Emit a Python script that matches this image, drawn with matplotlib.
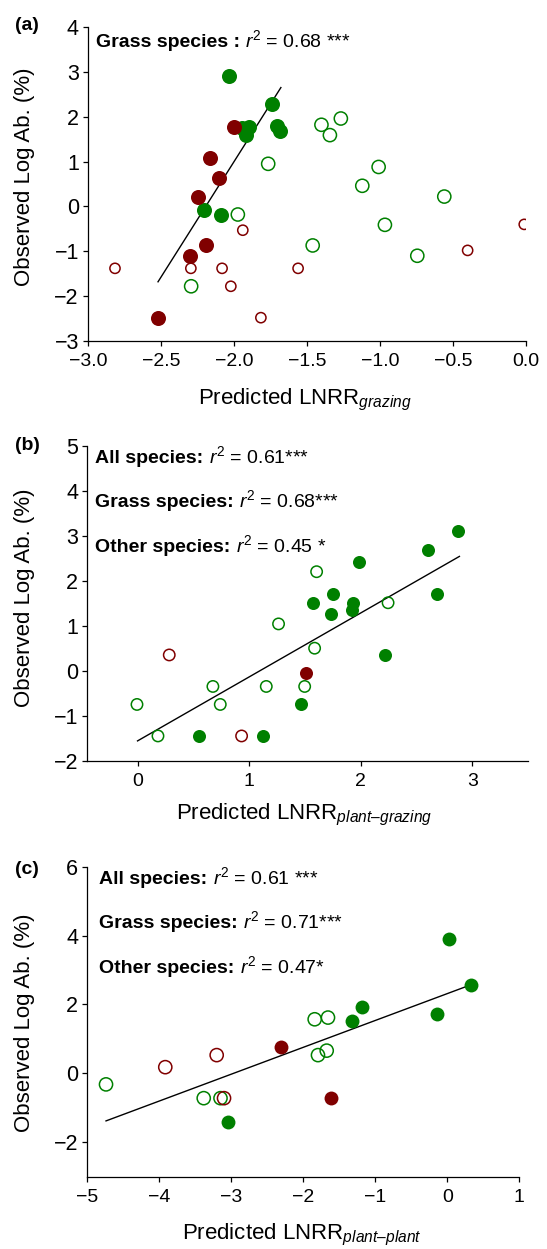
import numpy as np
import matplotlib
matplotlib.use("Agg")
import matplotlib.pyplot as plt

plt.rcParams['font.family'] = ['Liberation Sans', 'DejaVu Sans']
plt.rcParams['mathtext.fontset'] = 'custom'
plt.rcParams['mathtext.rm'] = 'Liberation Sans'
plt.rcParams['mathtext.it'] = 'Liberation Sans:italic'
plt.rcParams['mathtext.bf'] = 'Liberation Sans:bold'

GREEN = '#008000'
RED = '#800000'

# ---- panel (a): predicted LNRR grazing vs observed log abundance
a_gfill_x = [-2.035, -1.738, -1.944, -1.896, -1.914, -1.704, -1.681, -2.206, -2.09]
a_gfill_y = [2.90, 2.28, 1.74, 1.76, 1.59, 1.79, 1.68, -0.09, -0.18]
a_rfill_x = [-1.998, -2.165, -2.104, -2.245, -2.188, -2.302, -2.52]
a_rfill_y = [1.77, 1.07, 0.64, 0.22, -0.87, -1.10, -2.48]
a_gopen_x = [-1.765, -1.973, -2.293, -1.40, -1.267, -1.342, -1.008, -1.12, -0.558, -0.965, -1.46, -0.743]
a_gopen_y = [0.95, -0.18, -1.78, 1.82, 1.96, 1.59, 0.88, 0.46, 0.22, -0.41, -0.87, -1.10]
a_ropen_x = [-2.815, -2.295, -2.081, -1.56, -1.939, -2.021, -1.815, -0.398, -0.01]
a_ropen_y = [-1.38, -1.38, -1.38, -1.38, -0.53, -1.78, -2.48, -0.98, -0.40]
a_fit_x = [-2.52, -1.678]
a_fit_y = [-1.68, 2.65]

# ---- panel (b): plant-grazing
b_gfill_x = [2.871, 2.605, 1.98, 1.747, 1.571, 1.926, 1.733, 1.921, 2.679, 2.213, 1.461, 0.553, 1.126]
b_gfill_y = [3.10, 2.69, 2.41, 1.70, 1.50, 1.51, 1.27, 1.34, 1.70, 0.34, -0.75, -1.45, -1.45]
b_rfill_x = [1.512]
b_rfill_y = [-0.05]
b_gopen_x = [1.604, 1.263, 2.244, 1.586, 0.675, 1.153, 1.497, -0.005, 0.741, 0.183]
b_gopen_y = [2.20, 1.04, 1.51, 0.50, -0.35, -0.35, -0.35, -0.75, -0.75, -1.45]
b_ropen_x = [0.284, 0.932]
b_ropen_y = [0.35, -1.45]
b_fit_x = [0.0, 2.883]
b_fit_y = [-1.56, 2.54]

# ---- panel (c): plant-plant
c_gfill_x = [0.024, 0.333, -1.189, -1.319, -0.147, -3.05]
c_gfill_y = [3.90, 2.57, 1.94, 1.52, 1.71, -1.42]
c_rfill_x = [-2.314, -1.615]
c_rfill_y = [0.77, -0.72]
c_gopen_x = [-1.842, -1.657, -1.796, -1.675, -4.74, -3.383, -3.15]
c_gopen_y = [1.57, 1.62, 0.53, 0.66, -0.32, -0.72, -0.72]
c_ropen_x = [-3.917, -3.203, -3.101]
c_ropen_y = [0.18, 0.53, -0.72]
c_fit_x = [-4.74, 0.339]
c_fit_y = [-1.38, 2.58]

W, H = 547, 1249
fig = plt.figure(figsize=(W / 100, H / 100), dpi=100)
renderer = fig.canvas.get_renderer()


def box(l, t, r, b):
    return [l / W, 1 - b / H, (r - l) / W, (b - t) / H]


def style(ax):
    for s in ['top', 'right']:
        ax.spines[s].set_visible(False)
    for s in ['left', 'bottom']:
        ax.spines[s].set_linewidth(0.9)
    ax.tick_params(direction='out', length=3.6, width=0.9, pad=3)
    ax.tick_params(axis='y', labelsize=15.5)
    ax.tick_params(axis='x', labelsize=14, pad=5)


def points(ax, gf, rf, go, ro, sf, sgo, sro):
    ax.scatter(*go, s=sgo, facecolors='none', edgecolors=GREEN, linewidths=1.1, zorder=3)
    ax.scatter(*ro, s=sro, facecolors='none', edgecolors=RED, linewidths=1.1, zorder=3)
    ax.scatter(*gf, s=sf, color=GREEN, linewidths=0, zorder=4)
    ax.scatter(*rf, s=sf, color=RED, linewidths=0, zorder=4)


def stat_text(x, yb, bold, rest, size=14):
    # bold species name followed by the regular r^2 part
    t = fig.text(x / W, 1 - yb / H, bold, fontsize=size, fontweight='bold',
                 ha='left', va='baseline')
    bb = t.get_window_extent(renderer=renderer)
    gap = 0.278 * size * 100 / 72
    fig.text((bb.x1 + gap) / W, 1 - yb / H, rest, fontsize=size, ha='left', va='baseline')


# (a)
ax = fig.add_axes(box(88, 27, 525.7, 341))
points(ax, (a_gfill_x, a_gfill_y), (a_rfill_x, a_rfill_y),
       (a_gopen_x, a_gopen_y), (a_ropen_x, a_ropen_y), 117, 90, 54)
ax.plot(a_fit_x, a_fit_y, color='black', lw=1.0, zorder=2)
ax.set_xlim(-3.0, 0.0)
ax.set_ylim(-3, 4)
ax.set_xticks(np.arange(-3.0, 0.01, 0.5))
ax.set_xticklabels(['\u22123.0', '\u22122.5', '\u22122.0', '\u22121.5', '\u22121.0', '\u22120.5', '0.0'])
ax.set_yticks(range(-3, 5))
style(ax)
stat_text(95.7, 47, "Grass species :", r"$\mathit{r}^{2}$ = 0.68 ***")

# (b)
ax = fig.add_axes(box(87.3, 445.7, 528.3, 760.7))
points(ax, (b_gfill_x, b_gfill_y), (b_rfill_x, b_rfill_y),
       (b_gopen_x, b_gopen_y), (b_ropen_x, b_ropen_y), 88, 67, 67)
ax.plot(b_fit_x, b_fit_y, color='black', lw=1.0, zorder=2)
ax.set_xlim(-0.45, 3.5)
ax.set_ylim(-2, 5)
ax.set_xticks([0, 1, 2, 3])
ax.set_yticks(range(-2, 6))
style(ax)
b_bold = ["All species:", "Grass species:", "Other species:"]
b_rest = [r"$\mathit{r}^{2}$ = 0.61***", r"$\mathit{r}^{2}$ = 0.68***", r"$\mathit{r}^{2}$ = 0.45 *"]
for bt, rt, yb in zip(b_bold, b_rest, [463, 507, 552]):
    stat_text(95, yb, bt, rt)

# (c)
ax = fig.add_axes(box(87.3, 866.7, 519.3, 1176.7))
points(ax, (c_gfill_x, c_gfill_y), (c_rfill_x, c_rfill_y),
       (c_gopen_x, c_gopen_y), (c_ropen_x, c_ropen_y), 100, 90, 90)
ax.plot(c_fit_x, c_fit_y, color='black', lw=1.0, zorder=2)
ax.set_xlim(-5, 1)
ax.set_ylim(-3, 6)
ax.set_xticks(range(-5, 2))
ax.set_yticks([-2, 0, 2, 4, 6])
style(ax)
c_bold = ["All species:", "Grass species:", "Other species:"]
c_rest = [r"$\mathit{r}^{2}$ = 0.61 ***", r"$\mathit{r}^{2}$ = 0.71***", r"$\mathit{r}^{2}$ = 0.47*"]
for bt, rt, yb in zip(c_bold, c_rest, [884, 928, 973]):
    stat_text(99, yb, bt, rt)

# axis labels and panel letters
xlabels = [r"Predicted LNRR$_{\mathit{grazing}}$",
           r"Predicted LNRR$_{\mathit{plant–grazing}}$",
           r"Predicted LNRR$_{\mathit{plant–plant}}$"]
for txt, xc, yb in zip(xlabels, [305, 304, 302], [404, 819, 1239]):
    fig.text(xc / W, 1 - yb / H, txt, fontsize=16, ha='center', va='baseline')

ylab = "Observed Log Ab. (%)"
for yc in [177, 598, 1023]:
    fig.text(25 / W, 1 - yc / H, ylab, rotation=90, ha='center', va='center', fontsize=16)

for lab, yc in zip(['(a)', '(b)', '(c)'], [25, 446, 869]):
    fig.text(15 / W, 1 - yc / H, lab, fontsize=14, fontweight='bold', ha='left', va='center')

fig.savefig('out.png', dpi=100)
